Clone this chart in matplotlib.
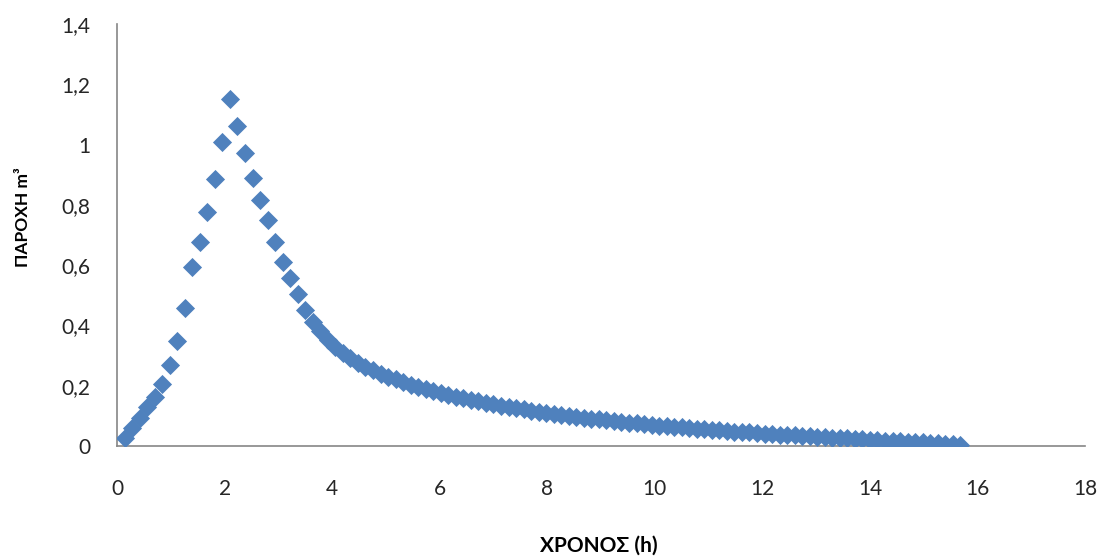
import matplotlib
matplotlib.use("Agg")
from matplotlib import pyplot as plt

# ωριαία παροχή (υδρογράφημα)
time_h = [0.14, 0.28, 0.42, 0.56, 0.70, 0.84, 0.98, 1.12, 1.26, 1.40,
          1.54, 1.68, 1.82, 1.96, 2.10, 2.24, 2.38, 2.52, 2.66, 2.80,
          2.94, 3.08, 3.22, 3.36, 3.50, 3.64, 3.78, 3.92, 4.06, 4.20,
          4.34, 4.48, 4.62, 4.76, 4.90, 5.04, 5.18, 5.32, 5.46, 5.60,
          5.74, 5.88, 6.02, 6.16, 6.30, 6.44, 6.58, 6.72, 6.86, 7.00,
          7.14, 7.28, 7.42, 7.56, 7.70, 7.84, 7.98, 8.12, 8.26, 8.40,
          8.54, 8.68, 8.82, 8.96, 9.10, 9.24, 9.38, 9.52, 9.66, 9.80,
          9.94, 10.08, 10.22, 10.36, 10.50, 10.64, 10.78, 10.92, 11.06, 11.20,
          11.34, 11.48, 11.62, 11.76, 11.90, 12.04, 12.18, 12.32, 12.46, 12.60,
          12.74, 12.88, 13.02, 13.16, 13.30, 13.44, 13.58, 13.72, 13.86, 14.00,
          14.14, 14.28, 14.42, 14.56, 14.70, 14.84, 14.98, 15.12, 15.26, 15.40,
          15.54, 15.68]

flow = [0.028, 0.060, 0.094, 0.128, 0.164, 0.206, 0.268, 0.349, 0.457, 0.595,
        0.678, 0.775, 0.886, 1.010, 1.151, 1.063, 0.971, 0.888, 0.816, 0.750,
        0.676, 0.611, 0.556, 0.503, 0.451, 0.412, 0.380, 0.352, 0.328, 0.308,
        0.291, 0.276, 0.263, 0.251, 0.240, 0.230, 0.221, 0.212, 0.204, 0.196,
        0.189, 0.182, 0.176, 0.170, 0.164, 0.158, 0.153, 0.148, 0.143, 0.139,
        0.134, 0.130, 0.126, 0.122, 0.117, 0.113, 0.109, 0.106, 0.103, 0.100,
        0.097, 0.094, 0.091, 0.088, 0.085, 0.083, 0.080, 0.078, 0.076, 0.073,
        0.071, 0.068, 0.066, 0.064, 0.062, 0.060, 0.058, 0.056, 0.054, 0.052,
        0.050, 0.048, 0.046, 0.045, 0.043, 0.041, 0.040, 0.038, 0.036, 0.035,
        0.033, 0.032, 0.030, 0.029, 0.028, 0.026, 0.025, 0.024, 0.022, 0.021,
        0.020, 0.018, 0.017, 0.016, 0.014, 0.013, 0.012, 0.010, 0.009, 0.008,
        0.006, 0.005]

x_ticks = [0, 2, 4, 6, 8, 10, 12, 14, 16, 18]
y_ticks = [0, 0.2, 0.4, 0.6, 0.8, 1.0, 1.2, 1.4]
y_tick_labels = ["0", "0,2", "0,4", "0,6", "0,8", "1", "1,2", "1,4"]

plt.rcParams['font.family'] = ['Lato', 'DejaVu Sans']

fig = plt.figure(figsize=(11.07, 5.56), dpi=100)
ax = fig.add_axes([0.1057, 0.1978, 0.8745, 0.759])

ax.scatter(time_h, flow, marker='D', s=95, c='#4F81BD', linewidths=0, zorder=3)

ax.set_xlim(0, 18)
ax.set_ylim(0, 1.4)
ax.set_xticks(x_ticks)
ax.set_yticks(y_ticks)
ax.set_yticklabels(y_tick_labels)

for side in ['top', 'right']:
    ax.spines[side].set_visible(False)
for side in ['left', 'bottom']:
    ax.spines[side].set_color('#868686')
    ax.spines[side].set_linewidth(1.2)

ax.tick_params(axis='x', length=0, pad=24, labelsize=15, colors='#262626')
ax.tick_params(axis='y', length=0, pad=19, labelsize=15, colors='#262626')

ax.set_xlabel("ΧΡΟΝΟΣ (h)", fontsize=15, fontweight='bold', va='center')
ax.xaxis.set_label_coords(0.498, -0.235)
ax.set_ylabel("ΠΑΡΟΧΗ m³", fontsize=12.5, fontweight='bold', va='center')
ax.yaxis.set_label_coords(-0.097, 0.543)

plt.savefig("out.png", dpi=100)
